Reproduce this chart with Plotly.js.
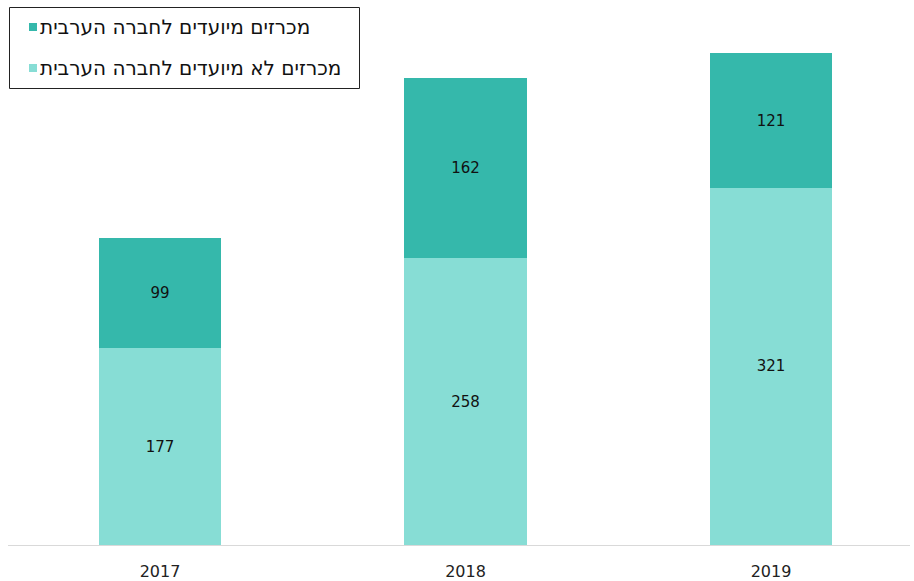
<!DOCTYPE html>
<html>
<head>
<meta charset="utf-8">
<script src="https://cdn.plot.ly/plotly-3.0.1.min.js"></script>
<style>html,body{margin:0;padding:0;background:#fff;}#chart{width:914px;height:581px;}</style>
</head>
<body>
<div id="chart"></div>
<script>
const years = ['2017', '2018', '2019'];
const notForArab = [177, 258, 321];
const forArab = [99, 162, 121];
const nameNotForArab = 'מכרזים לא מיועדים לחברה הערבית';
const nameForArab = 'מכרזים מיועדים לחברה הערבית';
const colorLight = '#87ddd5';
const colorDark = '#35b8ab';

const W = 914, H = 581;
const M = {l: 8, r: 4, t: 10, b: 36};
const pw = W - M.l - M.r, ph = H - M.t - M.b;
const px = x => (x - M.l) / pw;
const py = y => (H - M.b - y) / ph;

const font = 'DejaVu Sans, Verdana, sans-serif';

const traces = [
  {type: 'bar', x: years, y: notForArab, name: nameNotForArab, marker: {color: colorLight},
   text: notForArab.map(String), textposition: 'inside', insidetextanchor: 'middle',
   textfont: {family: font, size: 15, color: '#111'}, hoverinfo: 'none'},
  {type: 'bar', x: years, y: forArab, name: nameForArab, marker: {color: colorDark},
   text: forArab.map(String), textposition: 'inside', insidetextanchor: 'middle',
   textfont: {family: font, size: 15, color: '#111'}, hoverinfo: 'none'}
];

const legendItems = [
  {name: nameForArab, color: colorDark, y: 27},
  {name: nameNotForArab, color: colorLight, y: 68}
];
const shapes = [
  {type: 'rect', xref: 'paper', yref: 'paper', x0: px(9.5), x1: px(359.5), y0: py(7.5), y1: py(88.5),
   line: {color: '#222', width: 1}, fillcolor: 'rgba(0,0,0,0)'}
];
const annotations = [];
legendItems.forEach(it => {
  shapes.push({type: 'rect', xref: 'paper', yref: 'paper', x0: px(29), x1: px(37), y0: py(it.y + 4), y1: py(it.y - 4),
    line: {width: 0}, fillcolor: it.color});
  annotations.push({xref: 'paper', yref: 'paper', x: px(38), y: py(it.y), xanchor: 'left', yanchor: 'middle',
    text: it.name, showarrow: false, font: {family: font, size: 20, color: '#111'}});
});

const layout = {
  width: W, height: H,
  margin: M,
  barmode: 'stack',
  bargap: 0.6,
  showlegend: false,
  paper_bgcolor: '#fff', plot_bgcolor: '#fff',
  xaxis: {type: 'category', range: [-0.4975, 2.455], showgrid: false, zeroline: false,
    showline: true, linecolor: '#d9d9d9', linewidth: 1, ticks: '', ticklabelstandoff: 12,
    tickfont: {family: font, size: 16, color: '#222'}},
  yaxis: {range: [0, 481], visible: false, showgrid: false, zeroline: false},
  shapes: shapes,
  annotations: annotations
};

Plotly.newPlot('chart', traces, layout, {displayModeBar: false, staticPlot: true});
</script>
</body>
</html>
